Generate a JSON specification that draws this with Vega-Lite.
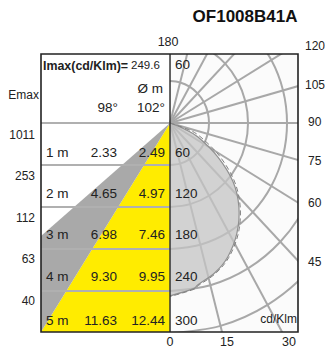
{"$schema":"https://vega.github.io/schema/vega-lite/v6.json","width":257,"height":278,"padding":{"left":41,"top":54,"right":27,"bottom":20},"autosize":"none","background":"white","config":{"view":{"stroke":null},"text":{"font":"Liberation Sans","fill":"#222222","baseline":"middle"}},
"encoding":{"x":{"field":"x","type":"quantitative","axis":null,"scale":{"domain":[-198.5,196.9],"nice":false,"zero":false}},"y":{"field":"y","type":"quantitative","axis":null,"scale":{"domain":[-298.6,98.6],"nice":false,"zero":false}}},
"layer":[
{"data":{"values":[{"x":0,"x2":196.9,"y":98.6,"y2":-298.6}]},"mark":{"type":"rect","fill":"#fbfbfb"},"encoding":{"x2":{"field":"x2"},"y2":{"field":"y2"}}},
{"data":{"values":[{"x":-198.5,"y":-298.6,"y2":-298.6},{"x":0,"y":0,"y2":-298.6}]},"mark":{"type":"area","color":"#ffec00"},"encoding":{"y2":{"field":"y2"}}},
{"data":{"values":[{"x":-198.5,"y":-161.4,"y2":-298.6},{"x":0,"y":0,"y2":0}]},"mark":{"type":"area","color":"#a9a9a9"},"encoding":{"y2":{"field":"y2"}}},
{"data":{"values":[{"x":-198.5,"x2":0,"y":0,"y2":0},{"x":-198.5,"x2":0,"y":-60,"y2":-60},{"x":-198.5,"x2":0,"y":-120,"y2":-120},{"x":-198.5,"x2":0,"y":-180,"y2":-180},{"x":-198.5,"x2":0,"y":-240,"y2":-240}]},"mark":{"type":"rule","color":"#b0b0b0","strokeWidth":2},"encoding":{"x2":{"field":"x2"},"y2":{"field":"y2"}}},
{"data":{"values":[
{"r":60,"i":0,"x":0,"y":-60},{"r":60,"i":1,"x":15.5,"y":-58},{"r":60,"i":2,"x":30,"y":-52},{"r":60,"i":3,"x":42.4,"y":-42.4},{"r":60,"i":4,"x":52,"y":-30},{"r":60,"i":5,"x":58,"y":-15.5},{"r":60,"i":6,"x":60,"y":0},{"r":60,"i":7,"x":58,"y":15.5},{"r":60,"i":8,"x":52,"y":30},{"r":60,"i":9,"x":42.4,"y":42.4},{"r":60,"i":10,"x":30,"y":52},{"r":60,"i":11,"x":15.5,"y":58},{"r":60,"i":12,"x":0,"y":60},
{"r":120,"i":0,"x":0,"y":-120},{"r":120,"i":1,"x":31.1,"y":-115.9},{"r":120,"i":2,"x":60,"y":-103.9},{"r":120,"i":3,"x":84.9,"y":-84.9},{"r":120,"i":4,"x":103.9,"y":-60},{"r":120,"i":5,"x":115.9,"y":-31.1},{"r":120,"i":6,"x":120,"y":0},{"r":120,"i":7,"x":115.9,"y":31.1},{"r":120,"i":8,"x":103.9,"y":60},{"r":120,"i":9,"x":84.9,"y":84.9},{"r":120,"i":10,"x":60,"y":103.9},{"r":120,"i":11,"x":31.1,"y":115.9},{"r":120,"i":12,"x":0,"y":120},
{"r":180,"i":0,"x":0,"y":-180},{"r":180,"i":1,"x":46.6,"y":-173.9},{"r":180,"i":2,"x":90,"y":-155.9},{"r":180,"i":3,"x":127.3,"y":-127.3},{"r":180,"i":4,"x":155.9,"y":-90},{"r":180,"i":5,"x":173.9,"y":-46.6},{"r":180,"i":6,"x":180,"y":0},{"r":180,"i":7,"x":173.9,"y":46.6},{"r":180,"i":8,"x":155.9,"y":90},{"r":180,"i":9,"x":127.3,"y":127.3},
{"r":240,"i":0,"x":0,"y":-240},{"r":240,"i":1,"x":62.1,"y":-231.8},{"r":240,"i":2,"x":120,"y":-207.8},{"r":240,"i":3,"x":169.7,"y":-169.7},{"r":240,"i":4,"x":207.8,"y":-120},{"r":240,"i":5,"x":231.8,"y":-62.1},
{"r":300,"i":0,"x":0,"y":-300},{"r":300,"i":1,"x":77.6,"y":-289.8},{"r":300,"i":2,"x":150,"y":-259.8},{"r":300,"i":3,"x":212.1,"y":-212.1},{"r":300,"i":4,"x":259.8,"y":-150}
]},"mark":{"type":"line","clip":true,"interpolate":"cardinal","color":"#a8a8a8","strokeWidth":2},"encoding":{"detail":{"field":"r"},"order":{"field":"i"}}},
{"data":{"values":[{"x":0,"y":0,"x2":103.5,"y2":-386.4},{"x":0,"y":0,"x2":200,"y2":-346.4},{"x":0,"y":0,"x2":282.8,"y2":-282.8},{"x":0,"y":0,"x2":346.4,"y2":-200},{"x":0,"y":0,"x2":386.4,"y2":-103.5},{"x":0,"y":0,"x2":400,"y2":0},{"x":0,"y":0,"x2":386.4,"y2":103.5},{"x":0,"y":0,"x2":346.4,"y2":200},{"x":0,"y":0,"x2":282.8,"y2":282.8},{"x":0,"y":0,"x2":200,"y2":346.4},{"x":0,"y":0,"x2":103.5,"y2":386.4}]},"mark":{"type":"rule","clip":true,"color":"#a8a8a8","strokeWidth":2},"encoding":{"x2":{"field":"x2"},"y2":{"field":"y2"}}},
{"data":{"values":[{"i":0,"x":0,"y":0},{"i":1,"x":22,"y":-8.6},{"i":2,"x":43,"y":-20},{"i":3,"x":74,"y":-49},{"i":4,"x":97,"y":-84},{"i":5,"x":106,"y":-120},{"i":6,"x":103,"y":-157},{"i":7,"x":89,"y":-191},{"i":8,"x":69,"y":-214},{"i":9,"x":43,"y":-231},{"i":10,"x":35,"y":-237},{"i":11,"x":0,"y":-247}]},"mark":{"type":"line","interpolate":"cardinal","color":"#909090","strokeWidth":1.2,"fill":"#c4c4c4","fillOpacity":0.75},"encoding":{"order":{"field":"i"}}},
{"data":{"values":[{"i":0,"x":0,"y":0},{"i":1,"x":23,"y":-7.5},{"i":2,"x":44.5,"y":-18},{"i":3,"x":76,"y":-47},{"i":4,"x":99,"y":-83},{"i":5,"x":108,"y":-120},{"i":6,"x":105,"y":-158},{"i":7,"x":90.5,"y":-192},{"i":8,"x":70,"y":-215},{"i":9,"x":44,"y":-232},{"i":10,"x":35.5,"y":-238},{"i":11,"x":0,"y":-248}]},"mark":{"type":"line","interpolate":"cardinal","color":"#808080","strokeWidth":1,"strokeDash":[5,3]},"encoding":{"order":{"field":"i"}}},
{"data":{"values":[{"x":-190.8,"y":-42.9,"t":"1 m"},{"x":-190.8,"y":-101.4,"t":"2 m"},{"x":-190.8,"y":-160,"t":"3 m"},{"x":-190.8,"y":-220,"t":"4 m"},{"x":-190.8,"y":-282.9,"t":"5 m"},{"x":7.7,"y":82.9,"t":"60"},{"x":7.7,"y":-42.9,"t":"60"},{"x":7.7,"y":-101.4,"t":"120"},{"x":7.7,"y":-160,"t":"180"},{"x":7.7,"y":-220,"t":"240"},{"x":7.7,"y":-282.9,"t":"300"}]},"mark":{"type":"text","align":"left","fontSize":13.5},"encoding":{"text":{"field":"t"}}},
{"data":{"values":[{"x":-81.5,"y":-42.9,"t":"2.33"},{"x":-81.5,"y":-101.4,"t":"4.65"},{"x":-81.5,"y":-160,"t":"6.98"},{"x":-81.5,"y":-220,"t":"9.30"},{"x":-81.5,"y":-282.9,"t":"11.63"},{"x":-7.7,"y":-42.9,"t":"2.49"},{"x":-7.7,"y":-101.4,"t":"4.97"},{"x":-7.7,"y":-160,"t":"7.46"},{"x":-7.7,"y":-220,"t":"9.95"},{"x":-7.7,"y":-282.9,"t":"12.44"},{"x":-10.8,"y":48.6,"t":"Ø m"},{"x":-80,"y":21.4,"t":"98°"},{"x":-7.7,"y":21.4,"t":"102°"}]},"mark":{"type":"text","align":"right","fontSize":13.5},"encoding":{"text":{"field":"t"}}},
{"data":{"values":[{"x":-195.4,"y":81.4,"t":"Imax(cd/Klm)="}]},"mark":{"type":"text","align":"left","fontSize":12.4,"fontWeight":"bold"},"encoding":{"text":{"field":"t"}}},
{"data":{"values":[{"x":-60,"y":81.4,"t":"249.6"}]},"mark":{"type":"text","align":"left","fontSize":11.5},"encoding":{"text":{"field":"t"}}},
{"data":{"values":[{"x":207.7,"y":110,"t":"120"},{"x":207.7,"y":55,"t":"105"},{"x":212.3,"y":1.4,"t":"90"},{"x":212.3,"y":-54.3,"t":"75"},{"x":212.3,"y":-114.3,"t":"60"},{"x":212.3,"y":-198.6,"t":"45"}]},"mark":{"type":"text","align":"left","fontSize":12},"encoding":{"text":{"field":"t"}}},
{"data":{"values":[{"x":-207.7,"y":-17,"t":"1011"},{"x":-207.7,"y":-75.7,"t":"253"},{"x":-207.7,"y":-135.7,"t":"112"},{"x":-207.7,"y":-194.3,"t":"63"},{"x":-207.7,"y":-254.3,"t":"40"},{"x":-201.5,"y":40,"t":"Emax"},{"x":195.4,"y":-280,"t":"cd/Klm"}]},"mark":{"type":"text","align":"right","fontSize":12},"encoding":{"text":{"field":"t"}}},
{"data":{"values":[{"x":-3,"y":115.7,"t":"180"},{"x":0,"y":-312.9,"t":"0"},{"x":87.7,"y":-312.9,"t":"15"},{"x":183,"y":-312.9,"t":"30"}]},"mark":{"type":"text","align":"center","fontSize":12.5},"encoding":{"text":{"field":"t"}}},
{"data":{"values":[{"x":115.4,"y":151.4,"t":"OF1008B41A"}]},"mark":{"type":"text","align":"center","fontSize":17,"fontWeight":"bold","fill":"#111111"},"encoding":{"text":{"field":"t"}}},
{"data":{"values":[{"x":0,"x2":0,"y":98.6,"y2":-298.6}]},"mark":{"type":"rule","color":"#333333","strokeWidth":1.5},"encoding":{"x2":{"field":"x2"},"y2":{"field":"y2"}}},
{"data":{"values":[{"x":-198.5,"x2":196.9,"y":98.6,"y2":-298.6}]},"mark":{"type":"rect","fill":null,"stroke":"#222222","strokeWidth":1.6},"encoding":{"x2":{"field":"x2"},"y2":{"field":"y2"}}}
]}
